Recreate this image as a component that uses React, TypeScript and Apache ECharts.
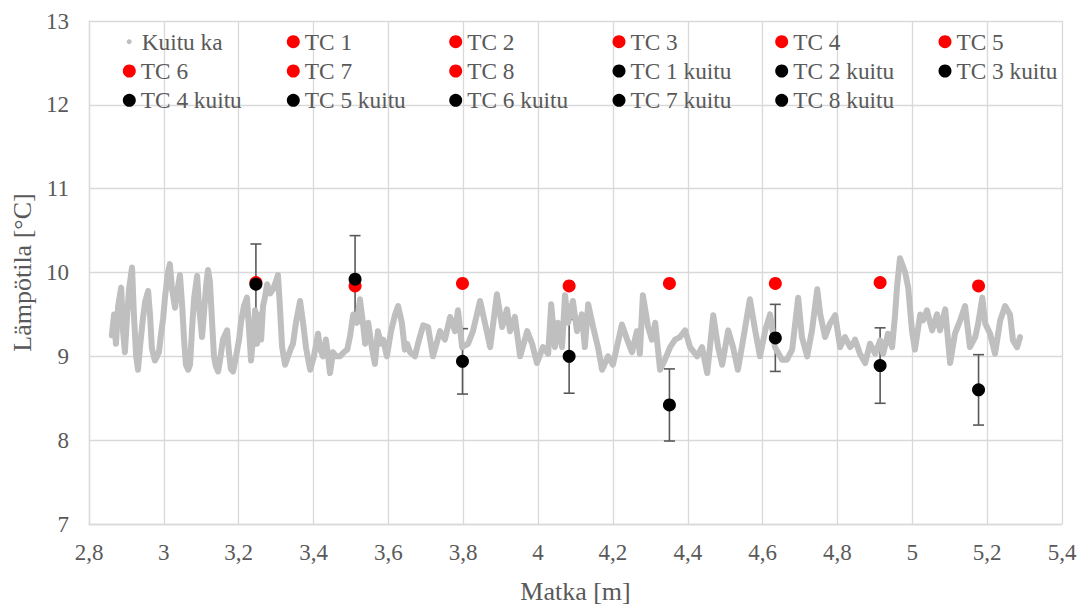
import React, { useEffect, useRef } from "react";
import * as echarts from "echarts";

// Fibre (distributed) temperature trace: distance [m] and temperature [°C]
const kuituDist = [
  2.861, 2.867, 2.872, 2.878, 2.886, 2.891, 2.896, 2.902, 2.907, 2.915, 2.92, 2.926, 2.931, 2.936, 2.944, 2.95,
  2.958, 2.963, 2.968, 2.976, 2.982, 2.987, 2.992, 2.998, 3.003, 3.011, 3.016, 3.022, 3.03, 3.035, 3.043, 3.049,
  3.054, 3.059, 3.065, 3.07, 3.075, 3.081, 3.089, 3.094, 3.102, 3.107, 3.113, 3.118, 3.123, 3.129, 3.134, 3.139,
  3.145, 3.15, 3.158, 3.169, 3.174, 3.179, 3.185, 3.193, 3.201, 3.206, 3.214, 3.222, 3.228, 3.233, 3.238, 3.244,
  3.249, 3.254, 3.26, 3.265, 3.27, 3.276, 3.284, 3.292, 3.3, 3.305, 3.31, 3.316, 3.324, 3.332, 3.34, 3.345,
  3.353, 3.364, 3.372, 3.38, 3.391, 3.401, 3.412, 3.417, 3.425, 3.433, 3.439, 3.444, 3.452, 3.46, 3.471, 3.481,
  3.49, 3.498, 3.506, 3.516, 3.524, 3.532, 3.538, 3.546, 3.556, 3.564, 3.572, 3.58, 3.586, 3.596, 3.607, 3.618,
  3.626, 3.636, 3.644, 3.65, 3.658, 3.671, 3.682, 3.693, 3.706, 3.719, 3.738, 3.751, 3.765, 3.778, 3.786, 3.797,
  3.813, 3.826, 3.845, 3.858, 3.872, 3.89, 3.904, 3.917, 3.925, 3.938, 3.952, 3.971, 3.984, 3.997, 4.013, 4.027,
  4.035, 4.045, 4.053, 4.064, 4.072, 4.08, 4.093, 4.104, 4.117, 4.125, 4.134, 4.147, 4.16, 4.171, 4.187, 4.2,
  4.224, 4.238, 4.251, 4.264, 4.272, 4.28, 4.294, 4.304, 4.313, 4.326, 4.339, 4.353, 4.366, 4.379, 4.393, 4.406,
  4.425, 4.438, 4.452, 4.468, 4.481, 4.492, 4.508, 4.521, 4.534, 4.548, 4.566, 4.58, 4.593, 4.607, 4.62, 4.633,
  4.652, 4.665, 4.679, 4.695, 4.705, 4.719, 4.732, 4.746, 4.754, 4.767, 4.78, 4.794, 4.807, 4.82, 4.834, 4.842,
  4.847, 4.86, 4.874, 4.887, 4.901, 4.914, 4.922, 4.935, 4.946, 4.954, 4.959, 4.967, 4.981, 4.989, 4.999, 5.007,
  5.021, 5.029, 5.039, 5.053, 5.066, 5.074, 5.088, 5.101, 5.114, 5.128, 5.141, 5.154, 5.168, 5.176, 5.187, 5.195,
  5.208, 5.221, 5.235, 5.248, 5.261, 5.269, 5.28, 5.288,
];
const kuituTemp = [
  9.25, 9.5, 9.15, 9.6, 9.82, 9.3, 9.05, 9.5, 9.8, 10.06, 9.5, 9.0, 8.84, 9.1, 9.45, 9.65,
  9.78, 9.5, 9.1, 8.95, 9.0, 9.05, 9.25, 9.45, 9.7, 10.0, 10.1, 9.8, 9.58, 9.75, 9.97, 9.6,
  9.2, 8.9, 8.84, 8.9, 9.3, 9.7, 9.96, 9.6, 9.23, 9.5, 9.85, 10.03, 9.9, 9.4, 9.0, 8.88,
  8.82, 8.95, 9.2, 9.31, 9.05, 8.85, 8.82, 9.0, 9.2, 9.4, 9.6, 9.7, 9.3, 8.95, 9.2, 9.55,
  9.15, 9.5, 9.2, 9.6, 9.7, 9.86, 9.75, 9.8, 9.9, 9.97, 9.6, 9.11, 8.9, 9.0, 9.1, 9.15,
  9.4, 9.66, 9.4, 9.1, 8.84, 9.0, 9.27, 9.1, 9.0, 9.2, 9.0, 8.8, 9.05, 9.0, 9.0, 9.05,
  9.08, 9.25, 9.5, 9.4, 9.68, 9.4, 9.15, 9.4, 9.1, 8.91, 9.3, 9.15, 9.2, 9.0, 9.3, 9.5,
  9.6, 9.4, 9.08, 9.15, 9.05, 9.0, 9.2, 9.37, 9.35, 9.0, 9.3, 9.2, 9.47, 9.3, 9.55, 9.11,
  9.15, 9.3, 9.66, 9.4, 9.11, 9.74, 9.35, 9.56, 9.3, 9.47, 9.0, 9.3, 9.15, 8.92, 9.11, 9.03,
  9.62, 9.11, 9.4, 9.11, 9.73, 9.4, 9.66, 9.3, 9.5, 9.11, 9.62, 9.35, 9.11, 8.84, 9.0, 8.9,
  9.38, 9.2, 9.05, 9.3, 9.03, 9.73, 9.35, 9.2, 9.4, 8.84, 8.96, 9.11, 9.2, 9.23, 9.31, 9.11,
  9.0, 9.11, 8.8, 9.49, 9.11, 8.9, 9.31, 9.11, 8.84, 9.2, 9.68, 9.31, 9.0, 9.31, 9.5, 9.11,
  8.96, 8.96, 9.08, 9.7, 9.23, 9.0, 9.31, 9.8, 9.5, 9.23, 9.39, 9.49, 9.11, 9.23, 9.11, 9.15,
  9.2, 9.03, 8.92, 9.15, 9.03, 9.19, 9.03, 9.27, 9.11, 9.5, 9.82, 10.17, 10.0, 9.82, 9.31, 9.08,
  9.5, 9.43, 9.55, 9.31, 9.5, 9.31, 9.56, 8.92, 9.27, 9.43, 9.6, 9.11, 9.23, 9.39, 9.7, 9.39,
  9.27, 9.03, 9.43, 9.6, 9.5, 9.19, 9.11, 9.23,
];

// Thermocouple positions and readings
const tcNames = ["TC 1", "TC 2", "TC 3", "TC 4", "TC 5", "TC 6", "TC 7", "TC 8"];
const tcDist = [3.246, 3.511, 3.798, 4.083, 4.351, 4.634, 4.914, 5.177];
const tcTemp = [9.88, 9.84, 9.87, 9.84, 9.87, 9.87, 9.88, 9.84];

// Fibre values at thermocouple positions with error (±)
const kuituNames = ["TC 1 kuitu", "TC 2 kuitu", "TC 3 kuitu", "TC 4 kuitu", "TC 5 kuitu", "TC 6 kuitu", "TC 7 kuitu", "TC 8 kuitu"];
const kuituAtTc = [9.86, 9.92, 8.94, 9.0, 8.42, 9.22, 8.89, 8.6];
const kuituErr = [0.48, 0.52, 0.39, 0.44, 0.43, 0.4, 0.45, 0.42];

const xTicksMin = 2.8;
const xTicksMax = 5.4;
const yTicksMin = 7;
const yTicksMax = 13;

const FONT = "Liberation Serif";
const TEXT = "#595959";
const GRID = "#d9d9d9";

export default function App() {
  const ref = useRef<HTMLDivElement>(null);

  useEffect(() => {
    if (!ref.current) return;
    const chart = echarts.init(ref.current, undefined, { renderer: "svg" });

    const txt = { fontSize: 23.3, color: TEXT, fontFamily: FONT, lineHeight: 23 };
    const legendBase = {
      orient: "vertical" as const,
      padding: 0,
      itemWidth: 13,
      itemHeight: 13,
      itemGap: 6.3,
      icon: "circle",
      textStyle: txt,
    };
    const colLeft = [122.8, 286.8, 449.2, 612.5, 775.2, 938.5];
    const row1 = 30.2;
    const row2 = 59.5;

    const legends: any[] = [
      {
        ...legendBase,
        itemWidth: 5,
        itemHeight: 5,
        left: 126.7,
        top: row1,
        textStyle: { ...txt, padding: [0, 0, 0, 5] },
        data: ["Kuitu ka"],
      },
      { ...legendBase, left: colLeft[0], top: row2, data: ["TC 6", "TC 4 kuitu"] },
      { ...legendBase, left: colLeft[1], top: row1, data: ["TC 1", "TC 7", "TC 5 kuitu"] },
      { ...legendBase, left: colLeft[2], top: row1, data: ["TC 2", "TC 8", "TC 6 kuitu"] },
      { ...legendBase, left: colLeft[3], top: row1, data: ["TC 3", "TC 1 kuitu", "TC 7 kuitu"] },
      { ...legendBase, left: colLeft[4], top: row1, data: ["TC 4", "TC 2 kuitu", "TC 8 kuitu"] },
      { ...legendBase, left: colLeft[5], top: row1, data: ["TC 5", "TC 3 kuitu"] },
    ];

    const errData = tcDist.map((x, i) => [x, kuituAtTc[i] - kuituErr[i], kuituAtTc[i] + kuituErr[i]]);

    const series: any[] = [
      {
        name: "Virhe",
        type: "custom",
        z: 1,
        silent: true,
        data: errData,
        encode: { x: 0, y: [1, 2] },
        renderItem: (params: any, api: any) => {
          const x = api.value(0);
          const top = api.coord([x, api.value(2)]);
          const bot = api.coord([x, api.value(1)]);
          const hw = 5.5;
          const st = { stroke: "#595959", lineWidth: 1.6 };
          return {
            type: "group",
            children: [
              { type: "line", shape: { x1: top[0], y1: top[1], x2: bot[0], y2: bot[1] }, style: st },
              { type: "line", shape: { x1: top[0] - hw, y1: top[1], x2: top[0] + hw, y2: top[1] }, style: st },
              { type: "line", shape: { x1: bot[0] - hw, y1: bot[1], x2: bot[0] + hw, y2: bot[1] }, style: st },
            ],
          };
        },
      },
      {
        name: "Kuitu ka",
        type: "line",
        z: 2,
        data: kuituDist.map((d, i) => [d, kuituTemp[i]]),
        showSymbol: false,
        symbol: "circle",
        itemStyle: { color: "#bfbfbf" },
        lineStyle: { color: "#bfbfbf", width: 6, join: "round", cap: "round" },
      },
      ...tcNames.map((n, i) => ({
        name: n,
        type: "scatter",
        z: 3,
        symbol: "circle",
        symbolSize: 13,
        itemStyle: { color: "#ff0000", opacity: 1 },
        data: [[tcDist[i], tcTemp[i]]],
      })),
      ...kuituNames.map((n, i) => ({
        name: n,
        type: "scatter",
        z: 4,
        symbol: "circle",
        symbolSize: 13,
        itemStyle: { color: "#000000", opacity: 1 },
        data: [[tcDist[i], kuituAtTc[i]]],
      })),
    ];

    const lab = { fontSize: 23, color: TEXT, fontFamily: FONT };

    chart.setOption({
      animation: false,
      backgroundColor: "#ffffff",
      textStyle: { fontFamily: FONT },
      grid: { left: 89, right: 18, top: 21, bottom: 80, containLabel: false },
      legend: legends,
      xAxis: {
        type: "value",
        min: xTicksMin,
        max: xTicksMax,
        interval: 0.2,
        name: "Matka [m]",
        nameLocation: "middle",
        nameGap: 54,
        nameTextStyle: { fontSize: 26, color: TEXT, fontFamily: FONT },
        axisLine: { show: true, lineStyle: { color: GRID, width: 1.3 } },
        axisTick: { show: false },
        splitLine: { show: true, lineStyle: { color: GRID, width: 1.3 } },
        axisLabel: {
          ...lab,
          margin: 17,
          formatter: (v: number) => String(Math.round(v * 10) / 10).replace(".", ","),
        },
      },
      yAxis: {
        type: "value",
        min: yTicksMin,
        max: yTicksMax,
        interval: 1,
        name: "Lämpötila [°C]",
        nameLocation: "middle",
        nameGap: 51,
        nameTextStyle: { fontSize: 26, color: TEXT, fontFamily: FONT },
        axisLine: { show: true, lineStyle: { color: GRID, width: 1.3 } },
        axisTick: { show: false },
        splitLine: { show: true, lineStyle: { color: GRID, width: 1.3 } },
        axisLabel: { ...lab, margin: 20 },
      },
      series,
    });

    return () => chart.dispose();
  }, []);

  return <div ref={ref} style={{ width: 1080, height: 609, position: "absolute", left: 0, top: 0 }} />;
}
